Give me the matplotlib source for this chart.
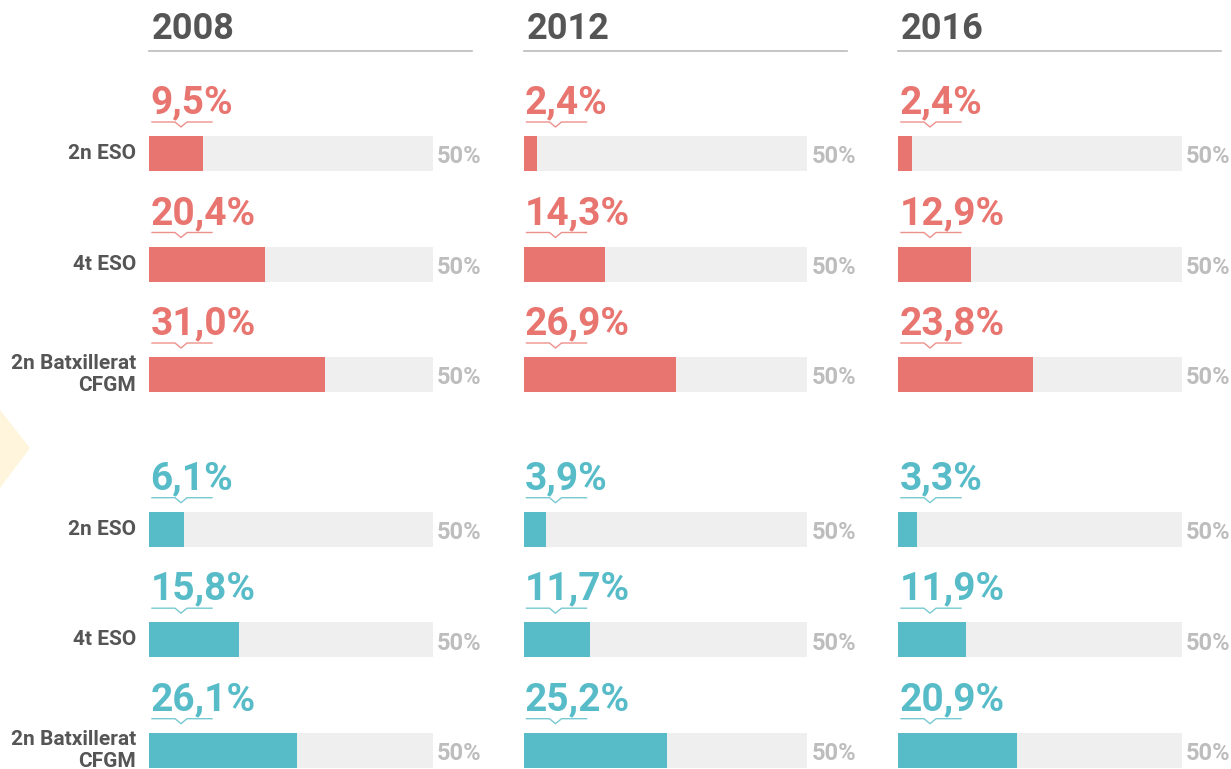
import matplotlib
matplotlib.use("Agg")
import matplotlib.pyplot as plt
from matplotlib.patches import Polygon

plt.rcParams['font.family'] = ['Roboto', 'DejaVu Sans']

years = ['2008', '2012', '2016']
levels = ['2n ESO', '4t ESO', '2n Batxillerat\nCFGM']
# percentages per year, one list per level order above
red_values = [[9.5, 20.4, 31.0], [2.4, 14.3, 26.9], [2.4, 12.9, 23.8]]
teal_values = [[6.1, 15.8, 26.1], [3.9, 11.7, 25.2], [3.3, 11.9, 20.9]]
scale_max = 50

RED = '#E8756F'
TEAL = '#57BCC8'
TRACK = '#EFEFEF'
DARK = '#555555'
MUTED = '#BDBDBD'

W, H = 1231, 769
fig = plt.figure(figsize=(W / 100, H / 100), dpi=100)

# overlay in pixel units for headers, labels and decoration
overlay = fig.add_axes([0, 0, 1, 1])
overlay.set_xlim(0, W)
overlay.set_ylim(H, 0)
overlay.axis('off')

overlay.add_patch(Polygon([(0, 410), (30, 448), (0, 488)], closed=True,
                          facecolor='#FEF5DC', edgecolor='none'))

row_unit = 110.5
row0 = 153.5
rows = [0, 1, 2, 3.4, 4.4, 5.4]
groups = [(red_values, RED, rows[:3]), (teal_values, TEAL, rows[3:])]

for r, lab in zip(rows, levels * 2):
    overlay.text(136, row0 + r * row_unit, lab, ha='right', va='center',
                 fontsize=15, fontweight='bold', color=DARK, linespacing=1.2)

col_left = 149
col_step = 374.5
bar_px = 284
px = scale_max / bar_px      # data units per pixel, x
py = 1 / row_unit            # data units per pixel, y

for i, year in enumerate(years):
    x0 = col_left + i * col_step
    overlay.text(x0 + 3, 39, year, ha='left', va='baseline', fontsize=26,
                 fontweight='bold', color=DARK)
    overlay.plot([x0, x0 + 323], [51, 51], color='#BBBBBB', lw=1.2)

    ax = fig.add_axes([x0 / W, 0, bar_px / W, 1])
    ax.set_xlim(0, scale_max)
    ax.set_ylim((H - row0) / row_unit, -row0 / row_unit)
    ax.axis('off')

    for values, color, ys in groups:
        vals = [values[i][k] for k in range(3)]
        ax.barh(ys, [scale_max] * 3, height=35 * py, color=TRACK, left=0)
        ax.barh(ys, vals, height=35 * py, color=color, left=0)
        for y, v in zip(ys, vals):
            ax.text(1.5 * px, y - 40 * py, f"{v:.1f}".replace('.', ',') + '%',
                    ha='left', va='baseline', fontsize=28, fontweight='bold',
                    color=color, clip_on=False)
            ly = y - 31.5 * py
            ax.plot([3 * px, 26 * px, 32 * px, 38 * px, 63 * px],
                    [ly, ly, ly + 5 * py, ly, ly],
                    color=color, lw=1, alpha=0.8, clip_on=False)
            ax.text(scale_max + 4 * px, y + 9.8 * py, f"{scale_max}%",
                    ha='left', va='baseline', fontsize=17, fontweight='bold',
                    color=MUTED, clip_on=False)

fig.savefig('out.png', dpi=100)
